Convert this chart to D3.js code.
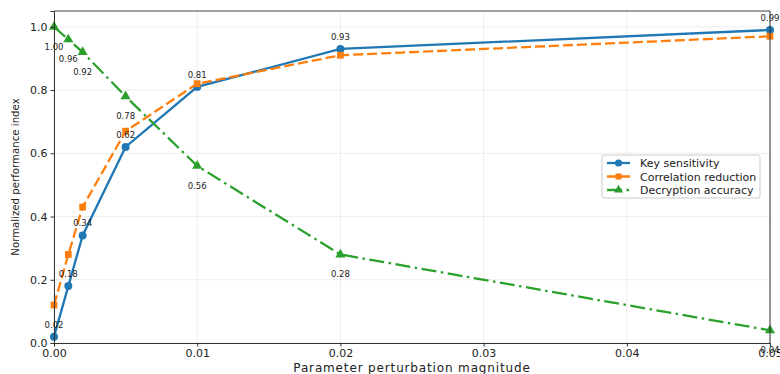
<!DOCTYPE html>
<html>
<head>
<meta charset="utf-8">
<script src="https://cdn.jsdelivr.net/npm/d3@7"></script>
<style>
  body { margin: 0; background: #fff; }
  svg { display: block; font-family: 'DejaVu Sans', sans-serif; }
</style>
</head>
<body>
<svg id="chart" width="780" height="374"></svg>
<script>
// perturbation magnitudes (x)
const magnitudes = [0, 0.001, 0.002, 0.005, 0.01, 0.02, 0.05];
const keySensitivity = [0.02, 0.18, 0.34, 0.62, 0.81, 0.93, 0.99];
const correlationReduction = [0.12, 0.28, 0.43, 0.67, 0.82, 0.91, 0.97];
const decryptionAccuracy = [1.00, 0.96, 0.92, 0.78, 0.56, 0.28, 0.04];
const xTicks = [0, 0.01, 0.02, 0.03, 0.04, 0.05];
const yTicks = [0, 0.2, 0.4, 0.6, 0.8, 1.0];

const series = [
    { name: 'Key sensitivity', values: keySensitivity, color: '#1f77b4', dash: null, marker: 'circle' },
    { name: 'Correlation reduction', values: correlationReduction, color: '#ff7f0e', dash: '10,4', marker: 'square' },
    { name: 'Decryption accuracy', values: decryptionAccuracy, color: '#2ca02c', dash: '15,4.5,2.5,4.5', marker: 'triangle' }
];

const margin = { top: 11, right: 10, bottom: 31, left: 54 };
const width = 780, height = 374;

const svg = d3.select('#chart');

const x = d3.scaleLinear().domain([0, 0.05]).range([margin.left, width - margin.right]);
const y = d3.scaleLinear().domain([0, 1.05]).range([height - margin.bottom, margin.top]);

const symbolOf = m => m === 'circle' ? d3.symbolCircle
    : m === 'square' ? d3.symbolSquare : d3.symbolTriangle;
const sizeOf = m => m === 'circle' ? 50 : m === 'square' ? 46 : 44;

// grid
svg.append('g')
    .selectAll('line')
    .data(xTicks)
    .join('line')
    .attr('x1', d => x(d)).attr('x2', d => x(d))
    .attr('y1', y(0)).attr('y2', y(1.05))
    .attr('stroke', '#e8e8e8').attr('stroke-width', 0.8);
svg.append('g')
    .selectAll('line')
    .data(yTicks)
    .join('line')
    .attr('x1', x(0)).attr('x2', x(0.05))
    .attr('y1', d => y(d)).attr('y2', d => y(d))
    .attr('stroke', '#e8e8e8').attr('stroke-width', 0.8);

// lines + markers
const line = d3.line()
    .x((d, i) => x(magnitudes[i]))
    .y(d => y(d));

series.forEach(s => {
    svg.append('path')
        .datum(s.values)
        .attr('fill', 'none')
        .attr('stroke', s.color)
        .attr('stroke-width', 2.3)
        .attr('stroke-dasharray', s.dash)
        .attr('d', line);

    svg.append('g')
        .selectAll('path')
        .data(s.values)
        .join('path')
        .attr('transform', (d, i) => `translate(${x(magnitudes[i])},${y(d)})`)
        .attr('d', d3.symbol().type(symbolOf(s.marker)).size(sizeOf(s.marker)))
        .attr('fill', s.color);
});

// value annotations
svg.append('g')
    .selectAll('text')
    .data(keySensitivity)
    .join('text')
    .attr('x', (d, i) => x(magnitudes[i]))
    .attr('y', d => y(d) - 9)
    .attr('text-anchor', 'middle')
    .attr('font-size', 8.5)
    .attr('fill', '#222')
    .text(d => d.toFixed(2));
svg.append('g')
    .selectAll('text')
    .data(decryptionAccuracy)
    .join('text')
    .attr('x', (d, i) => x(magnitudes[i]))
    .attr('y', d => y(d) + 23)
    .attr('text-anchor', 'middle')
    .attr('font-size', 8.5)
    .attr('fill', '#222')
    .text(d => d.toFixed(2));

// axes
const xAxis = svg.append('g')
    .attr('transform', `translate(0,${y(0)})`)
    .call(d3.axisBottom(x).tickValues(xTicks).tickFormat(d3.format('.2f')).tickSize(3.5).tickPadding(3));
const yAxis = svg.append('g')
    .attr('transform', `translate(${x(0)},0)`)
    .call(d3.axisLeft(y).tickValues(yTicks).tickFormat(d3.format('.1f')).tickSize(3.5).tickPadding(3));
[xAxis, yAxis].forEach(a => {
    a.selectAll('text').attr('font-size', 11).attr('fill', '#222').attr('font-family', 'DejaVu Sans');
    a.selectAll('line').attr('stroke', '#333');
    a.select('.domain').attr('stroke', '#333');
});

// frame top/right
svg.append('line')
    .attr('x1', x(0)).attr('x2', x(0.05)).attr('y1', y(1.05)).attr('y2', y(1.05))
    .attr('stroke', '#444');
svg.append('line')
    .attr('x1', x(0.05)).attr('x2', x(0.05)).attr('y1', y(1.05)).attr('y2', y(0))
    .attr('stroke', '#333');

// axis labels
svg.append('text')
    .attr('x', (x(0) + x(0.05)) / 2)
    .attr('y', 372)
    .attr('text-anchor', 'middle')
    .attr('font-size', 12)
    .attr('letter-spacing', 0.85)
    .attr('fill', '#222')
    .text('Parameter perturbation magnitude');
svg.append('text')
    .attr('transform', `translate(19,${(y(0) + y(1.05)) / 2}) rotate(-90)`)
    .attr('text-anchor', 'middle')
    .attr('font-size', 10.2)
    .attr('fill', '#222')
    .text('Normalized performance index');

// legend
const legend = svg.append('g').attr('transform', 'translate(602,155)');
legend.append('rect')
    .attr('width', 158).attr('height', 43).attr('rx', 2)
    .attr('fill', '#fff').attr('fill-opacity', 0.85)
    .attr('stroke', '#ccc');
series.forEach((s, i) => {
    const yy = 8 + i * 13.5;
    legend.append('line')
        .attr('x1', 5).attr('x2', 28).attr('y1', yy).attr('y2', yy)
        .attr('stroke', s.color).attr('stroke-width', 2.3)
        .attr('stroke-dasharray', s.dash);
    legend.append('path')
        .attr('transform', `translate(16.5,${yy})`)
        .attr('d', d3.symbol().type(symbolOf(s.marker)).size(sizeOf(s.marker) * 0.8))
        .attr('fill', s.color);
    legend.append('text')
        .attr('x', 38).attr('y', yy + 4)
        .attr('font-size', 11)
        .attr('fill', '#222')
        .text(s.name);
});
</script>
</body>
</html>
